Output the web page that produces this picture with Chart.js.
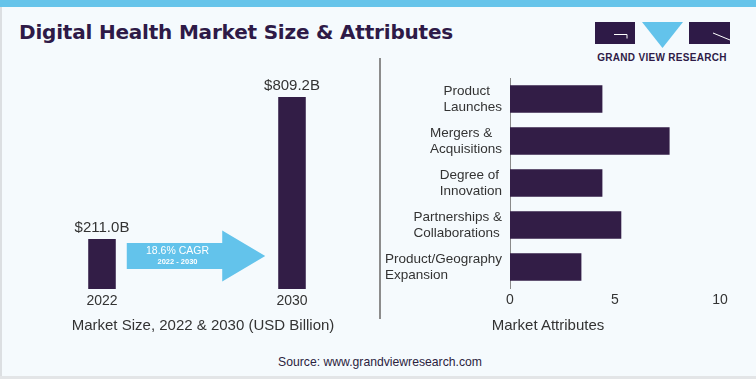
<!DOCTYPE html>
<html><head><meta charset="utf-8">
<script src="https://cdn.jsdelivr.net/npm/chart.js@4.4.0/dist/chart.umd.min.js"></script>
<style>
html,body{margin:0;padding:0;}
body{width:756px;height:379px;position:relative;overflow:hidden;background:#F5FAFD;font-family:"Liberation Sans",Arial,sans-serif;}
.abs{position:absolute;}
#topband{left:0;top:0;width:756px;height:7px;background:#66C4EA;}
#leftborder{left:0;top:7px;width:2px;height:372px;background:#DCDFE2;}
#bottomband{left:0;top:376px;width:756px;height:3px;background:#E3E5E7;}
#title{left:19px;top:19px;font:bold 20px "DejaVu Sans",sans-serif;color:#2E1A47;white-space:nowrap;line-height:26px;letter-spacing:-0.2px;}
#logoText{left:595px;top:51.5px;width:134px;text-align:center;font:bold 10px "Liberation Sans",Arial,sans-serif;color:#2E1A47;white-space:nowrap;letter-spacing:0.3px;line-height:12px;}
#divider{left:379px;top:58px;width:2px;height:261px;background:#8C8C8C;}
.axTitle{top:316px;font-size:15px;color:#333;white-space:nowrap;line-height:18px;transform:translateX(-50%);}
#source{left:380px;top:354px;transform:translateX(-50%);font-size:12.2px;color:#2B2340;white-space:nowrap;line-height:16px;}
#cL{left:0;top:60px;}
#cR{left:380px;top:60px;}
</style></head>
<body>
<div id="topband" class="abs"></div>
<div id="leftborder" class="abs"></div>
<div id="bottomband" class="abs"></div>
<div id="title" class="abs">Digital Health Market Size &amp; Attributes</div>
<svg class="abs" style="left:595px;top:22px" width="136" height="27" viewBox="0 0 136 27">
  <rect x="0" y="0" width="40" height="22" fill="#2E1A47"/>
  <path d="M19 12.5 H32 V16.5" stroke="#fff" stroke-width="1" fill="none"/>
  <polygon points="47,0 88,0 67.5,26" fill="#63C3EB"/>
  <rect x="94" y="0" width="41" height="22" fill="#2E1A47"/>
  <path d="M118 11 L135 18" stroke="#fff" stroke-width="1" fill="none"/>
</svg>
<div id="logoText" class="abs">GRAND VIEW RESEARCH</div>
<div id="divider" class="abs"></div>
<canvas id="cL" class="abs" width="390" height="280"></canvas>
<canvas id="cR" class="abs" width="376" height="280"></canvas>
<div class="abs axTitle" style="left:203px">Market Size, 2022 &amp; 2030 (USD Billion)</div>
<div class="abs axTitle" style="left:548px">Market Attributes</div>
<div id="source" class="abs">Source: www.grandviewresearch.com</div>
<script>
// ---- data ----
const years = ['2022', '2030'];
const marketSize = [211.0, 809.2];
const valueLabels = ['$211.0B', '$809.2B'];
const cagrText = '18.6% CAGR';
const cagrPeriod = '2022 - 2030';
const attrCategories = [
  ['Product', 'Launches'],
  ['Mergers &', 'Acquisitions'],
  ['Degree of', 'Innovation'],
  ['Partnerships &', 'Collaborations'],
  ['Product/Geography', 'Expansion']
];
const attrValues = [4.4, 7.6, 4.4, 5.3, 3.4];
const attrTicks = [0, 5, 10];

const FONT = '"Liberation Sans", Arial, sans-serif';
const BAR = '#321D46';
const TXT = '#333333';
const ARROW = '#63C3EB';

const leftPlugin = {
  id: 'leftAnno',
  afterDatasetsDraw(chart) {
    const ctx = chart.ctx;
    const bars = chart.getDatasetMeta(0).data;
    ctx.save();
    ctx.fillStyle = TXT;
    ctx.font = '15px ' + FONT;
    ctx.textAlign = 'center';
    ctx.textBaseline = 'middle';
    bars.forEach((b, i) => ctx.fillText(valueLabels[i], b.x, b.y - 11));
    // CAGR arrow between bars
    const base = chart.scales.y.getPixelForValue(0);
    const x0 = bars[0].x + bars[0].width / 2 + 11;
    const tip = bars[1].x - bars[1].width / 2 - 13;
    const hs = tip - 43;
    const cy = base - 33;
    ctx.fillStyle = ARROW;
    ctx.beginPath();
    ctx.moveTo(x0, cy - 13);
    ctx.lineTo(hs, cy - 13);
    ctx.lineTo(hs, cy - 25.5);
    ctx.lineTo(tip, cy);
    ctx.lineTo(hs, cy + 25.5);
    ctx.lineTo(hs, cy + 13);
    ctx.lineTo(x0, cy + 13);
    ctx.closePath();
    ctx.fill();
    ctx.fillStyle = '#ffffff';
    const tx = (x0 + hs) / 2 + 3;
    ctx.font = '10.5px ' + FONT;
    ctx.fillText(cagrText, tx, cy - 4.5);
    ctx.font = 'bold 7.5px ' + FONT;
    ctx.fillText(cagrPeriod, tx, cy + 6);
    ctx.restore();
  }
};

new Chart(document.getElementById('cL'), {
  type: 'bar',
  data: { labels: years, datasets: [{ data: marketSize, backgroundColor: BAR, barPercentage: 0.145, categoryPercentage: 1 }] },
  options: {
    responsive: false, animation: false, devicePixelRatio: 1,
    layout: { padding: { left: 7, right: 3, top: 37, bottom: 0 } },
    plugins: { legend: { display: false }, tooltip: { enabled: false } },
    scales: {
      x: {
        grid: { display: false, drawTicks: false }, border: { display: false },
        ticks: { color: TXT, font: { size: 14, family: FONT }, padding: 4 },
        afterFit(s) { s.height = 51; }
      },
      y: { display: false, min: 0, max: Math.max(...marketSize) }
    }
  },
  plugins: [leftPlugin]
});

const labelPlugin = {
  id: 'blockLabels',
  afterDraw(chart) {
    const ctx = chart.ctx;
    const ys = chart.scales.y;
    const right = chart.chartArea.left - 8;
    ctx.save();
    ctx.font = '13.5px ' + FONT;
    ctx.fillStyle = TXT;
    ctx.textAlign = 'left';
    ctx.textBaseline = 'middle';
    attrCategories.forEach((lines, i) => {
      const y = ys.getPixelForTick(i);
      const w = Math.max(...lines.map(l => ctx.measureText(l).width));
      lines.forEach((l, j) => ctx.fillText(l, right - w, y + (j - (lines.length - 1) / 2) * 16));
    });
    ctx.restore();
  }
};

new Chart(document.getElementById('cR'), {
  type: 'bar',
  data: { labels: attrCategories, datasets: [{ data: attrValues, backgroundColor: BAR, barPercentage: 0.655, categoryPercentage: 1 }] },
  options: {
    indexAxis: 'y',
    responsive: false, animation: false, devicePixelRatio: 1,
    layout: { padding: { left: 0, right: 36, top: 18, bottom: 0 } },
    plugins: { legend: { display: false }, tooltip: { enabled: false } },
    scales: {
      x: {
        min: attrTicks[0], max: attrTicks[attrTicks.length - 1],
        ticks: { stepSize: attrTicks[1] - attrTicks[0], color: TXT, font: { size: 14, family: FONT }, padding: 4 },
        grid: { display: false, drawTicks: false }, border: { display: false },
        afterFit(s) { s.height = 52; }
      },
      y: {
        grid: { display: false, drawTicks: false },
        border: { display: true, color: '#8A8A8A', width: 1 },
        ticks: { display: false },
        afterFit(s) { s.width = 130; }
      }
    }
  },
  plugins: [labelPlugin]
});
</script>
</body></html>
